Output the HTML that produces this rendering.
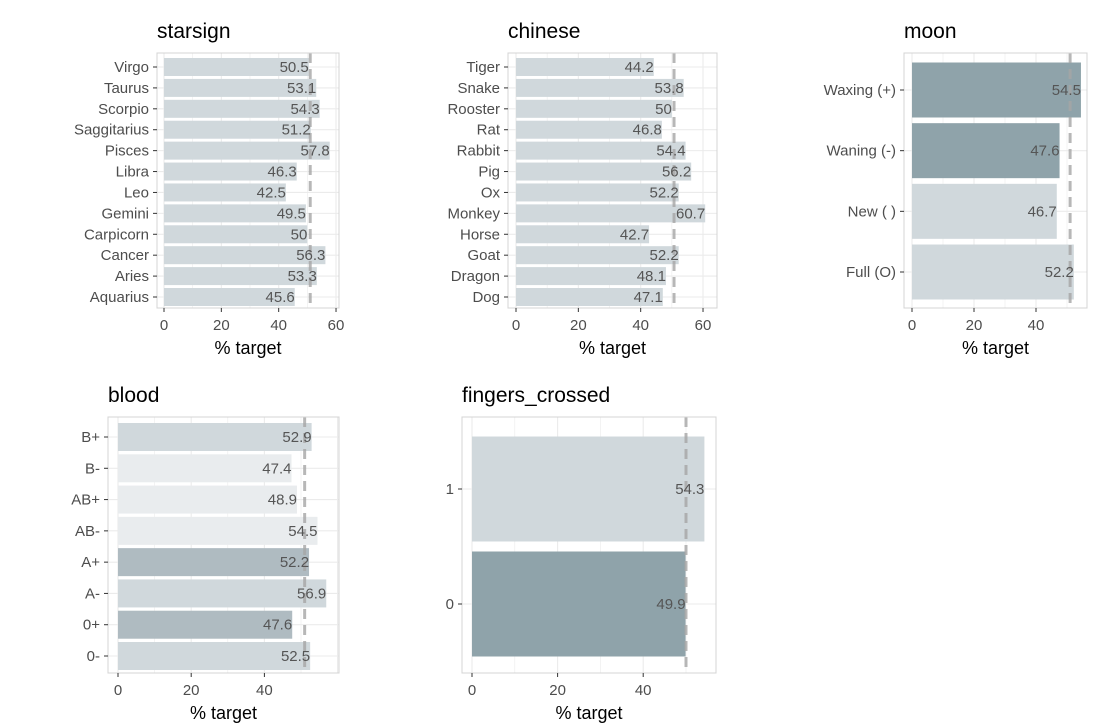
<!DOCTYPE html>
<html><head><meta charset="utf-8">
<style>
body{margin:0;background:#fff;font-family:"Liberation Sans",Arial,sans-serif;}
svg text{font-family:"Liberation Sans",Arial,sans-serif;}
</style></head>
<body>
<svg id="chart" width="1097" height="723" xmlns="http://www.w3.org/2000/svg"></svg>
<script>
const starCats = ["Virgo","Taurus","Scorpio","Saggitarius","Pisces","Libra","Leo","Gemini","Carpicorn","Cancer","Aries","Aquarius"];
const starVals = [50.5,53.1,54.3,51.2,57.8,46.3,42.5,49.5,50,56.3,53.3,45.6];
const chineseCats = ["Tiger","Snake","Rooster","Rat","Rabbit","Pig","Ox","Monkey","Horse","Goat","Dragon","Dog"];
const chineseVals = [44.2,53.8,50,46.8,54.4,56.2,52.2,60.7,42.7,52.2,48.1,47.1];
const moonCats = ["Waxing (+)","Waning (-)","New ( )","Full (O)"];
const moonVals = [54.5,47.6,46.7,52.2];
const bloodCats = ["B+","B-","AB+","AB-","A+","A-","0+","0-"];
const bloodVals = [52.9,47.4,48.9,54.5,52.2,56.9,47.6,52.5];
const fingerCats = ["1","0"];
const fingerVals = [54.3,49.9];
const ticks60 = [0,20,40,60];
const ticks40 = [0,20,40];
const refVals = {starsign:51, chinese:50.7, moon:51, blood:51, fingers:50};

const L="#d0d8dc", VL="#e9ecee", M="#afbbc1", D="#8fa3aa";
const panels = [
 {name:"starsign", cats:starCats, vals:starVals, ticks:ticks60, colors:starCats.map(()=>L),
  box:[157,53,339,308], x0:164, k:2.867, y0:67, y1:297, bh:18, title:[157,38]},
 {name:"chinese", cats:chineseCats, vals:chineseVals, ticks:ticks60, colors:chineseCats.map(()=>L),
  box:[508,53,717,308], x0:516, k:3.117, y0:67, y1:297, bh:18, title:[508,38]},
 {name:"moon", cats:moonCats, vals:moonVals, ticks:ticks40, colors:[D,D,L,L],
  box:[904,53,1087,308], x0:912, k:3.1, y0:90, y1:272, bh:55, title:[904,38]},
 {name:"blood", cats:bloodCats, vals:bloodVals, ticks:ticks40, colors:[L,VL,VL,VL,M,L,M,L],
  box:[108,417,339,673], x0:118, k:3.66, y0:437, y1:656, bh:28, title:[108,402]},
 {name:"fingers", cats:fingerCats, vals:fingerVals, ticks:ticks40, colors:[L,D],
  box:[462,417,716,673], x0:472, k:4.28, y0:489, y1:604, bh:105, title:[462,402], tname:"fingers_crossed"}
];
const svg=document.getElementById("chart");
const NS="http://www.w3.org/2000/svg";
function mk(tag,attrs,parent,txt){const e=document.createElementNS(NS,tag);for(const a in attrs)e.setAttribute(a,attrs[a]);if(txt!==undefined)e.textContent=txt;parent.appendChild(e);return e;}

panels.forEach(p=>{
  const g=mk("g",{},svg);
  
  
  const [bx0,by0,bx1,by1]=p.box;
  const X=v=>p.x0+v*p.k;
  const n=p.cats.length;
  const Y=i=>n>1? p.y0+(p.y1-p.y0)*i/(n-1) : p.y0;
  const maxT=Math.floor((bx1-p.x0)/p.k/10)*10;
  for(let t=0;t<=maxT;t+=10){
    const gl=mk("line",{x1:X(t),x2:X(t),y1:by0,y2:by1,stroke:"#ebebeb","stroke-width":t%20==0?1.1:0.6},g);
    
    
  }
  p.cats.forEach((c,i)=>{
    const gl=mk("line",{x1:bx0,x2:bx1,y1:Y(i),y2:Y(i),stroke:"#ebebeb","stroke-width":1.1},g);
    
    
  });
  p.cats.forEach((c,i)=>{
    const r=mk("rect",{x:X(0),y:Y(i)-p.bh/2,width:X(p.vals[i])-X(0),height:p.bh,fill:p.colors[i]},g);
    
    
  });
  const rl=mk("line",{x1:X(refVals[p.name]),x2:X(refVals[p.name]),y1:by0,y2:by1,stroke:"#a6a6a6","stroke-width":3,"stroke-dasharray":"10,6","opacity":0.8},g);
  
  
  p.cats.forEach((c,i)=>{
    const t=mk("text",{x:X(p.vals[i]),y:Y(i)+5,"text-anchor":"end","font-size":15,fill:"#555"},g,String(p.vals[i]));
    
    
  });
  const b=mk("rect",{x:bx0,y:by0,width:bx1-bx0,height:by1-by0,fill:"none",stroke:"#d4d4d4","stroke-width":1},g);
  
  
  p.cats.forEach((c,i)=>{
    mk("line",{x1:bx0-4,x2:bx0,y1:Y(i),y2:Y(i),stroke:"#333","stroke-width":1},g);
    const t=mk("text",{x:bx0-8,y:Y(i)+5,"text-anchor":"end","font-size":15,fill:"#4d4d4d"},g,c);
    
    
  });
  p.ticks.forEach(t=>{
    mk("line",{x1:X(t),x2:X(t),y1:by1,y2:by1+4,stroke:"#333","stroke-width":1},g);
    const tx=mk("text",{x:X(t),y:by1+22,"text-anchor":"middle","font-size":15,fill:"#4d4d4d"},g,String(t));
    
    
  });
  const xt=mk("text",{x:(bx0+bx1)/2,y:by1+46,"text-anchor":"middle","font-size":18,fill:"#000"},g,"% target");
  
  
  const tt=mk("text",{x:p.title[0],y:p.title[1],"font-size":21,fill:"#000"},g,p.tname||p.name);
  
  
});
</script>
</body></html>
